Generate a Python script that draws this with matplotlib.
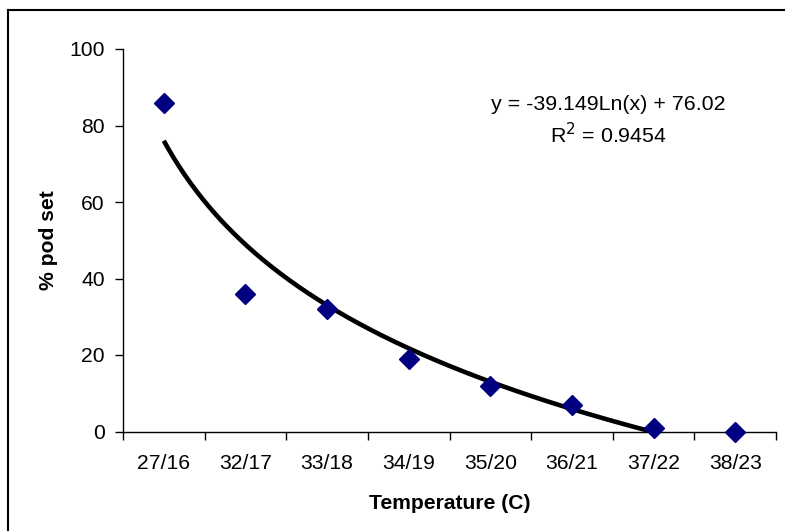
import numpy as np
import matplotlib
matplotlib.use("Agg")
import matplotlib.pyplot as plt
from matplotlib.lines import Line2D

categories = ["27/16", "32/17", "33/18", "34/19", "35/20", "36/21", "37/22", "38/23"]
pod_set = [86, 36, 32, 19, 12, 7, 1, 0]
trend_slope = -39.149
trend_intercept = 76.02
r_squared = 0.9454
y_ticks = [0, 20, 40, 60, 80, 100]

plt.rcParams['font.family'] = ['Liberation Sans', 'DejaVu Sans']

fig = plt.figure(figsize=(7.85, 5.31), dpi=100)
W, H = 785, 531
ax = fig.add_axes([123 / W, 1 - 431.5 / H, (776 - 123) / W, (431.5 - 49) / H])

x = np.arange(len(categories))
ax.plot(x, pod_set, linestyle='none', marker='D', markersize=10,
        color='#000080', zorder=3, clip_on=False)

xs = np.linspace(1, len(categories), 300)
ys = trend_slope * np.log(xs) + trend_intercept
ax.plot(xs - 1, ys, color='black', linewidth=3.3, zorder=2, solid_capstyle='butt')

ax.set_xlim(-0.5, len(categories) - 0.5)
ax.set_ylim(0, 100)
ax.set_yticks(y_ticks)
ax.set_yticklabels([str(v) for v in y_ticks])
ax.set_xticks(np.arange(len(categories) + 1) - 0.5)
ax.set_xticklabels([])
ax.set_xticks(x, minor=True)
ax.set_xticklabels(categories, minor=True)
ax.tick_params(axis='x', which='minor', length=0, pad=16, labelsize=15.2)
ax.tick_params(axis='x', which='major', length=6, width=1, direction='out')
ax.tick_params(axis='y', length=6, width=1, direction='out', pad=7, labelsize=15.2)

for s in ['top', 'right']:
    ax.spines[s].set_visible(False)
for s in ['left', 'bottom']:
    ax.spines[s].set_linewidth(1)

ax.set_xlabel("Temperature (C)", fontsize=15.2, fontweight='bold', labelpad=15)
ax.set_ylabel("% pod set", fontsize=15.2, fontweight='bold', labelpad=8)

fig.text(608 / W, 1 - 104 / H, f"y = {trend_slope}Ln(x) + {trend_intercept}",
         fontsize=15.4, ha='center', va='center')
fig.text(608 / W, 1 - 134.5 / H, f"R$^2$ = {r_squared}",
         fontsize=15.4, ha='center', va='center')

# outer chart border (top and left visible)
fig.add_artist(Line2D([8 / W, 1.0], [1 - 10 / H, 1 - 10 / H], color='black', linewidth=1.5,
                      transform=fig.transFigure))
fig.add_artist(Line2D([8 / W, 8 / W], [1 - 10 / H, 0.0], color='black', linewidth=1.5,
                      transform=fig.transFigure))

fig.savefig("out.png", dpi=100)
